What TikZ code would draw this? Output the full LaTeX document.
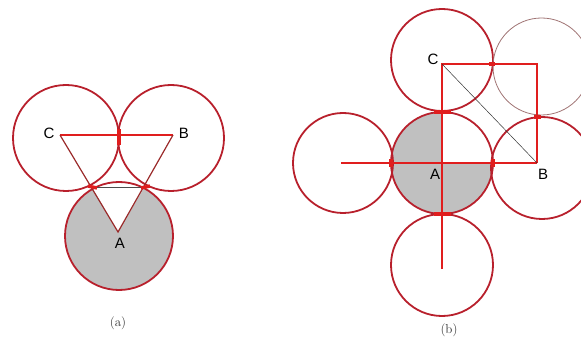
\documentclass[tikz,border=0pt]{standalone}
\usepackage{fontspec}
\newfontfamily\labfont{Liberation Sans}
\definecolor{circred}{HTML}{B8202C}
\definecolor{linered}{HTML}{E01E1E}
\definecolor{darkside}{HTML}{9A2A2A}
\definecolor{fillgray}{HTML}{C0C0C0}
\definecolor{thincirc}{HTML}{A07474}
\tikzset{
  circ/.style={draw=circred, line width=1.8pt},
  thincircle/.style={draw=thincirc, line width=0.8pt},
  redline/.style={draw=linered, line width=1.6pt},
  sideline/.style={draw=darkside, line width=1.2pt},
  thinline/.style={draw=black!80, line width=0.5pt},
  blob/.style={draw=linered, line width=3.4pt},
  lab/.style={font=\labfont\fontsize{15}{15}\selectfont, inner sep=0pt},
  captext/.style={font=\fontsize{13}{13}\selectfont, inner sep=0pt, text=black!80}
}
\begin{document}
\begin{tikzpicture}[x=1pt,y=1pt]
\useasboundingbox (0,0) rectangle (581,343);
% ================= (a) =================
\coordinate (cC) at (66,205);
\coordinate (cB) at (171,205);
\coordinate (cA) at (119,107);
\coordinate (vC) at (60,208);
\coordinate (vB) at (173,208);
\coordinate (vA) at (118,111);
\coordinate (t1) at (92,156);
\coordinate (t2) at (146,156);
% gray disc with white wedge
\fill[fillgray] (cA) circle[radius=54];
\fill[white] (vA) -- (t1) arc[start angle=119, end angle=61, radius=54] -- cycle;
\draw[circ] (cC) circle[radius=53];
\draw[circ] (cB) circle[radius=53];
\draw[circ] (cA) circle[radius=54];
\draw[thinline, draw=black!70, line width=0.8pt] (t1) -- (t2);
\draw[redline] (vC) -- (vB);
\draw[sideline] (vC) -- (vA) -- (vB);
\draw[blob] (119,198) -- (119,214);
\draw[blob] ([shift={(-4,1)}]t1) -- ([shift={(5,-1)}]t1);
\draw[blob] ([shift={(-5,-1)}]t2) -- ([shift={(4,1)}]t2);
\node[lab] (lC) at (49,210) {C};
\node[lab] (lB) at (184,210) {B};
\node[lab] (lA) at (120,100) {A};
\node[captext] (capa) at (118,20) {(a)};
% ================= (b) =================
\coordinate (pA) at (442,180);
\coordinate (pB) at (537,180);
\coordinate (pC) at (442,279);
\coordinate (sq) at (537,279);
\coordinate (hl) at (341,180);
\coordinate (vb) at (442,74);
\fill[fillgray] (442,231) arc[start angle=90, end angle=360, radius=51] -- (pA) -- cycle;
\draw[circ] (442,180) circle[radius=51];
\draw[circ] (442,283) circle[radius=51];
\draw[circ] (343,180) circle[radius=50];
\draw[circ] (542,175) circle[radius=51];
\draw[circ] (442,78) circle[radius=51];
\draw[thincircle] (541.5,276.5) circle[radius=48.5];
\draw[redline] (hl) -- (pB);
\draw[redline] (vb) -- (pC) -- (sq) -- (pB);
\draw[thinline] (pC) -- (pB);
\draw[blob] (434,231) -- (451,231);
\draw[blob] (434,129) -- (451,129);
\draw[blob] (391,176) -- (391,184);
\draw[blob] (493,176) -- (493,184);
\draw[blob] (489,279) -- (495,279);
\draw[blob] (534,226) -- (541,226);
\node[lab] (lbC) at (433,284) {C};
\node[lab] (lbA) at (435,169) {A};
\node[lab] (lbB) at (543,169) {B};
\node[captext] (capb) at (449,13) {(b)};
\end{tikzpicture}
\end{document}
